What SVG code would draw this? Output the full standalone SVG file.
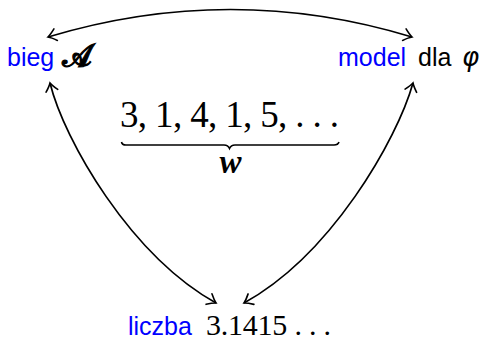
<svg xmlns="http://www.w3.org/2000/svg" width="488" height="340" viewBox="0 0 488 340">
<defs>
<marker id="arr" viewBox="-10 -8 12 16" markerWidth="12" markerHeight="16" refX="0" refY="0" orient="auto-start-reverse" markerUnits="userSpaceOnUse">
<path d="M-8,-6 Q-3,-1.5 0,0 Q-3,1.5 -8,6" fill="none" stroke="#000" stroke-width="1.6" stroke-linecap="round"/>
</marker>
<style>
.sans{font-family:"Liberation Sans","DejaVu Sans",sans-serif;font-size:25px}
.blue{fill:#0000ff}
.serif{font-family:"Liberation Serif","DejaVu Serif",serif}
.conn{fill:none;stroke:#000;stroke-width:1.7}
</style>
</defs>
<g id="connectors">
<path class="conn" d="M48,37 Q231,-18 412,37" marker-start="url(#arr)" marker-end="url(#arr)"/>
<path class="conn" d="M216,303 C130,255 64,140 50,83" marker-start="url(#arr)" marker-end="url(#arr)"/>
<path class="conn" d="M244,303 C331,255 397,140 413,83" marker-start="url(#arr)" marker-end="url(#arr)"/>
</g>
<g id="bieg">
<text class="sans blue" x="7" y="66">bieg</text>
<text x="62" y="66" font-family="'DejaVu Sans','Noto Sans',serif" font-size="31" stroke="#000" stroke-width="1.1">𝓐</text>
</g>
<g id="model">
<text class="sans blue" x="338" y="66">model</text>
<text class="sans" x="418" y="66">dla</text>
<text x="462" y="66" font-family="'DejaVu Sans',sans-serif" font-size="26" font-style="italic">φ</text>
</g>
<g id="word">
<text class="serif" x="120" y="127" font-size="37" textLength="219" lengthAdjust="spacing">3, 1, 4, 1, 5, . . .</text>
<path d="M121.5,142 Q122,145 126,145 H224 Q228,145 229.5,148.5 Q231,145 235,145 H334 Q338,145 339,142" fill="none" stroke="#000" stroke-width="1.6"/>
<text class="serif" x="230.5" y="173" font-size="33" font-weight="bold" font-style="italic" text-anchor="middle">w</text>
</g>
<g id="liczba">
<text class="sans blue" x="128" y="335">liczba</text>
<text class="serif" x="206" y="335" font-size="30" textLength="125" lengthAdjust="spacing">3.1415 . . .</text>
</g>
</svg>
